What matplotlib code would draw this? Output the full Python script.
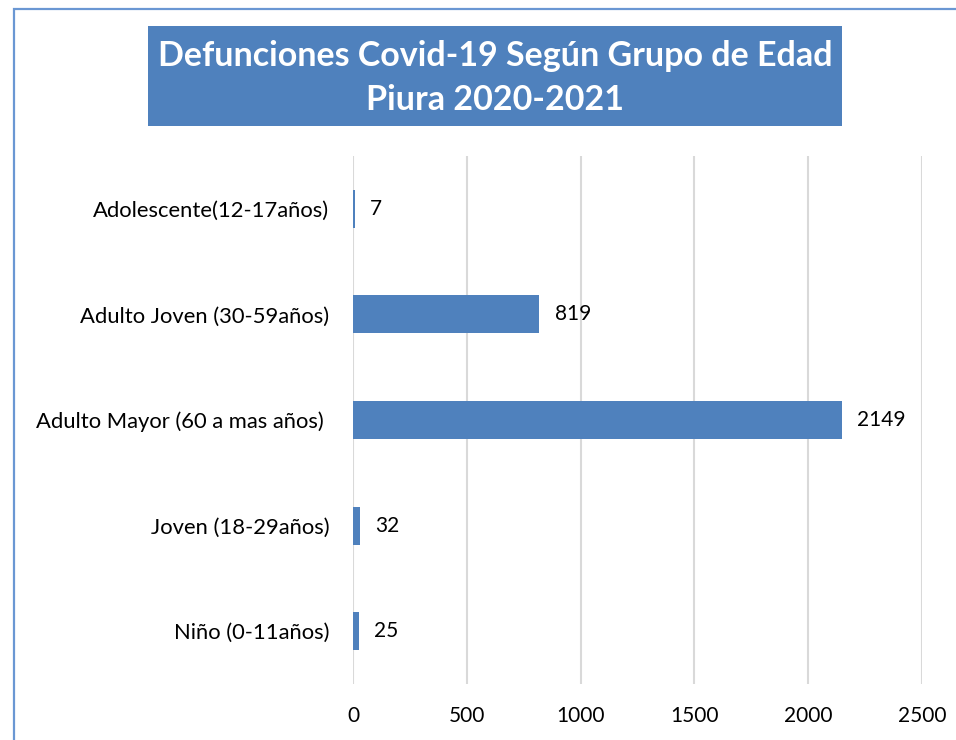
import matplotlib.pyplot as plt
from matplotlib.patches import Rectangle

# datos (de arriba hacia abajo)
grupos = ["Adolescente(12-17años)", "Adulto Joven (30-59años)",
          "Adulto Mayor (60 a mas años) ", "Joven (18-29años)", "Niño (0-11años)"]
defunciones = [7, 819, 2149, 32, 25]
xticks = [0, 500, 1000, 1500, 2000, 2500]

azul = "#4f81bd"
plt.rcParams['font.family'] = ['Lato', 'DejaVu Sans']

W, H = 956, 740
fig = plt.figure(figsize=(W / 100, H / 100), dpi=100)

# marco exterior del grafico
fig.patches.append(Rectangle((14 / W, -0.1), 1.2, 1 - 9 / H + 0.1, transform=fig.transFigure,
                             fill=False, edgecolor="#6a97d3", linewidth=1.6))

# caja del titulo
fig.patches.append(Rectangle((148 / W, 1 - 126 / H), (842 - 148) / W, 100 / H,
                             transform=fig.transFigure, facecolor=azul, edgecolor="none"))
fig.text(495 / W, 1 - 78 / H, "Defunciones Covid-19 Según Grupo de Edad\nPiura 2020-2021",
         ha="center", va="center", color="white", fontsize=24.5, fontweight="bold",
         linespacing=1.48)

ax = fig.add_axes([353 / W, 1 - 684 / H, 569 / W, 528 / H])
pos = list(range(len(grupos)))[::-1]
ax.barh(pos, defunciones, height=0.36, color=azul, zorder=2)
for p, v in zip(pos, defunciones):
    ax.annotate(str(v), (v, p), xytext=(11, 0), textcoords="offset points",
                ha="left", va="center", fontsize=15, color="black")

ax.set_xlim(0, 2500)
ax.set_ylim(-0.5, len(grupos) - 0.5)
ax.set_xticks(xticks)
ax.set_yticks(pos)
ax.set_yticklabels(grupos, fontsize=15.8)
ax.tick_params(axis="both", length=0)
ax.tick_params(axis="x", labelsize=15, pad=16)
ax.tick_params(axis="y", pad=17)
ax.grid(axis="x", color="#d9d9d9", linewidth=1.5, zorder=0)
for s in ax.spines.values():
    s.set_visible(False)

fig.savefig("out.png", dpi=100)
